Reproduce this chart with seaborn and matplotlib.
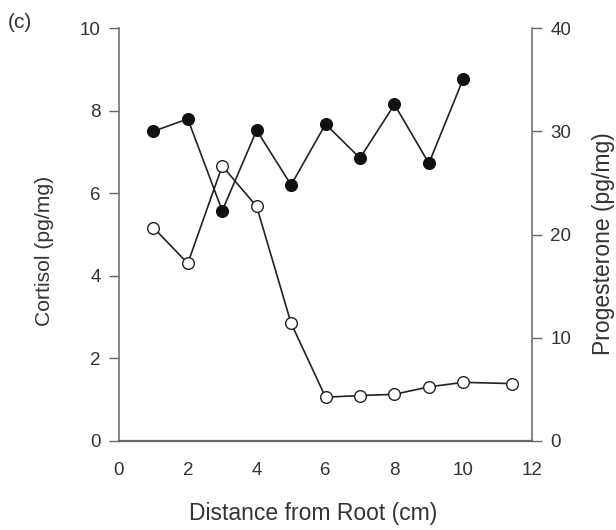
import matplotlib
matplotlib.use("Agg")
import matplotlib.pyplot as plt
import seaborn as sns
import pandas as pd

# Data
distance_open = [1, 2, 3, 4, 5, 6, 7, 8, 9, 10, 11.4]
cortisol = [5.17, 4.30, 6.66, 5.68, 2.85, 1.06, 1.10, 1.13, 1.31, 1.42, 1.39]
distance_filled = [1, 2, 3, 4, 5, 6, 7, 8, 9, 10]
progesterone = [30.0, 31.2, 22.3, 30.1, 24.8, 30.7, 27.4, 32.6, 26.9, 35.1]

x_ticks = [0, 2, 4, 6, 8, 10, 12]
left_ticks = [0, 2, 4, 6, 8, 10]
right_ticks = [0, 10, 20, 30, 40]

sns.set_style("white")
plt.rcParams['font.family'] = ['Liberation Sans', 'DejaVu Sans']

fig = plt.figure(figsize=(6.16, 5.30), dpi=100)
ax = fig.add_axes([0.193, 0.168, 0.671, 0.779])
ax2 = ax.twinx()

df_c = pd.DataFrame({"x": distance_open, "y": cortisol})
df_p = pd.DataFrame({"x": distance_filled, "y": progesterone})

sns.lineplot(data=df_c, x="x", y="y", ax=ax, color="#222222", linewidth=1.2,
             marker="o", markersize=8.4, markerfacecolor="white",
             markeredgecolor="#222222", markeredgewidth=1.0)
sns.lineplot(data=df_p, x="x", y="y", ax=ax2, color="#222222", linewidth=1.2,
             marker="o", markersize=8.4, markerfacecolor="#111111",
             markeredgecolor="#111111", markeredgewidth=1.0)

ax.set_xlim(0, 12)
ax.set_ylim(0, 10)
ax2.set_ylim(0, 40)
ax.set_xticks(x_ticks)
ax.set_yticks(left_ticks)
ax2.set_yticks(right_ticks)

text_color = "#333333"
spine_color = "#666666"
for a in (ax, ax2):
    a.spines['top'].set_visible(False)
    for s in ('left', 'right', 'bottom'):
        a.spines[s].set_color(spine_color)
        a.spines[s].set_linewidth(1.1)
    a.tick_params(axis='both', direction='out', length=7, width=1.0,
                  color=spine_color, labelcolor=text_color, labelsize=13.5, pad=6)
ax.spines['right'].set_visible(False)
ax2.spines['left'].set_visible(False)
ax2.spines['bottom'].set_visible(False)
ax.spines['bottom'].set_linewidth(1.6)
ax.tick_params(axis='x', pad=8)

ax.set_xlabel("Distance from Root (cm)", fontsize=16.5, color=text_color)
ax.set_ylabel("Cortisol (pg/mg)", fontsize=15.2, color=text_color)
ax2.set_ylabel("Progesterone (pg/mg)", fontsize=16.5, color=text_color)
ax.xaxis.set_label_coords(0.471, -0.148)
ax.yaxis.set_label_coords(-0.157, 0.46)
ax2.yaxis.set_label_coords(1.145, 0.479)

fig.text(0.013, 0.957, "(c)", fontsize=15, color=text_color, va="center", ha="left")

fig.savefig("out.png", dpi=100)
